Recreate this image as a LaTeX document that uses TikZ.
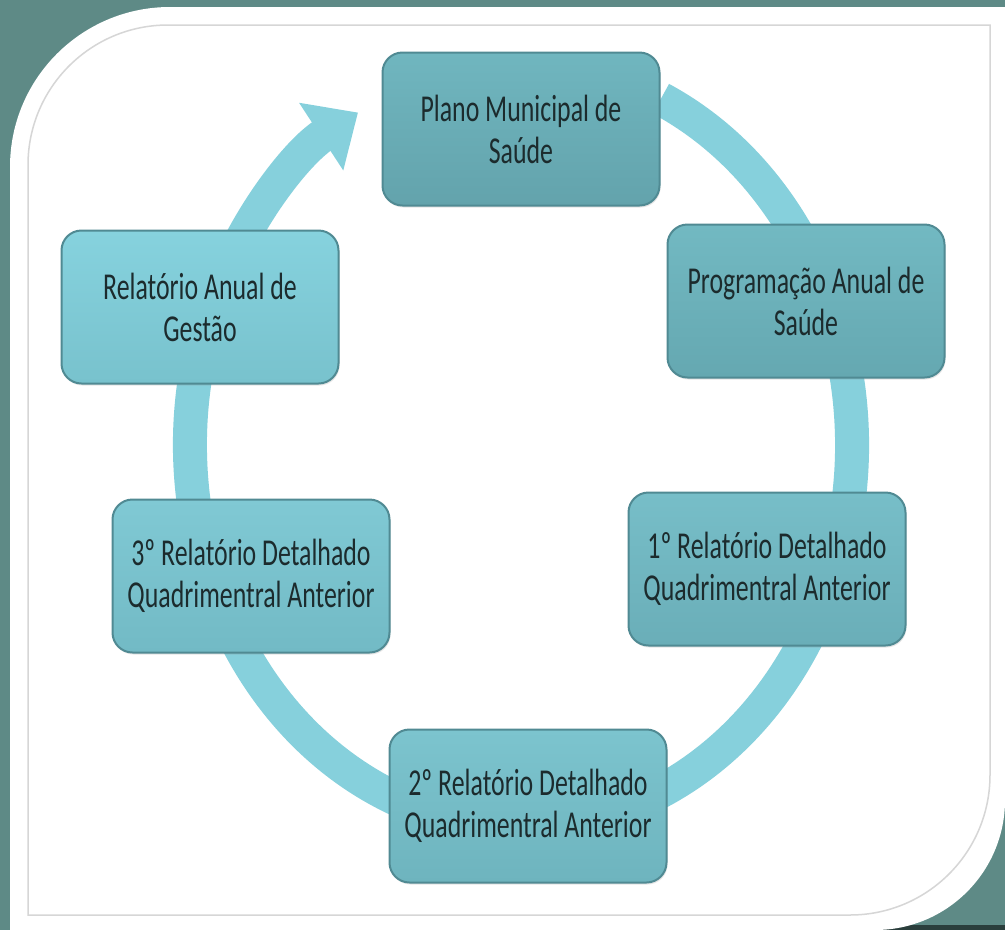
\documentclass[tikz,border=0pt]{standalone}
\usepackage{fontspec}
\newfontfamily\boxfont[FakeStretch=0.68]{Carlito}
\usetikzlibrary{arrows.meta, shadows}

\definecolor{backteal}{HTML}{5E8A86}
\definecolor{ringcol}{HTML}{86D0DC}
\definecolor{stageline}{HTML}{508A93}
\definecolor{stagetext}{HTML}{1C2B2D}
\definecolor{frameline}{HTML}{D6D6D6}

\begin{document}
\begin{tikzpicture}
      [x=1pt, y=-1pt,
      stage/.style={draw=stageline, line width=2pt, rounded corners=20pt,
        minimum width=277pt, minimum height=153pt, align=center,
        font=\boxfont\fontsize{38}{42}\selectfont, text=stagetext,
        drop shadow={opacity=0.2, shadow xshift=1pt, shadow yshift=-2pt}},
      ring/.style={draw=ringcol, line width=34pt,
        -{Triangle[width=78pt, length=44pt]}}]
      \useasboundingbox (0,0) rectangle (1005,930);
      \fill[backteal] (0,0) rectangle (1005,930);
      \fill[black!55!backteal] (870,925) rectangle (1005,930);
      \fill[white] (10,930) -- (10,167)
        arc[start angle=180, end angle=270, radius=160] -- (1005,7)
        -- (1005,800) arc[start angle=0, end angle=90, radius=130] -- cycle;
      \draw[frameline, line width=1.5pt] (28,915) -- (28,165)
        arc[start angle=180, end angle=270, radius=140] -- (990,25)
        -- (990,775) arc[start angle=0, end angle=90, radius=140] -- cycle;
      \coordinate (O) at (521, 445);
      \draw[ring] ([shift={(-65:331 and 382)}]O)
        arc[start angle=-65, end angle=240.5, x radius=331, y radius=382];
      \node (PMS) at (521, 129) [stage, top color={rgb,255:red,112;green,182;blue,191},
        bottom color={rgb,255:red,99;green,163;blue,172}] {Plano Municipal de\\Saúde};
      \node (PAS) at (806, 301) [stage, top color={rgb,255:red,114;green,185;blue,194},
        bottom color={rgb,255:red,101;green,168;blue,177}] {Programação Anual de\\Saúde};
      \node (R1) at (767, 569) [stage, top color={rgb,255:red,119;green,190;blue,200},
        bottom color={rgb,255:red,106;green,174;blue,184}] {1º Relatório Detalhado\\Quadrimentral Anterior};
      \node (R2) at (528, 806) [stage, top color={rgb,255:red,124;green,196;blue,206},
        bottom color={rgb,255:red,110;green,180;blue,190}] {2º Relatório Detalhado\\Quadrimentral Anterior};
      \node (R3) at (251, 576) [stage, top color={rgb,255:red,128;green,201;blue,212},
        bottom color={rgb,255:red,114;green,186;blue,197}] {3º Relatório Detalhado\\Quadrimentral Anterior};
      \node (RAG) at (200, 307) [stage, top color={rgb,255:red,134;green,210;blue,222},
        bottom color={rgb,255:red,120;green,194;blue,205}] {Relatório Anual de\\Gestão};
    \end{tikzpicture}
\end{document}
